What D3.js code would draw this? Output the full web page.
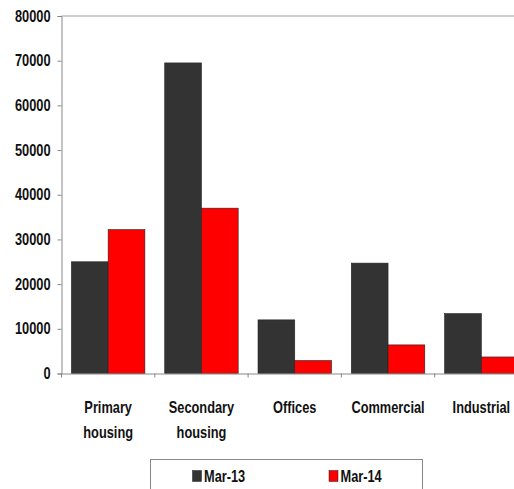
<!DOCTYPE html>
<html>
<head>
<meta charset="utf-8">
<script src="https://cdn.jsdelivr.net/npm/d3@7"></script>
<style>
  html, body { margin: 0; padding: 0; background: #fff; }
  svg { display: block; }
  text { font-family: "Liberation Sans", Arial, sans-serif; font-weight: bold; fill: #111; }
</style>
</head>
<body>
<script>
// Transactions by property type
const categories = [["Primary", "housing"], ["Secondary", "housing"], ["Offices"], ["Commercial"], ["Industrial"]];
const seriesNames = ["Mar-13", "Mar-14"];
const mar13 = [25000, 69500, 12000, 24700, 13400];
const mar14 = [32200, 37000, 2900, 6400, 3700];
const yTicks = [0, 10000, 20000, 30000, 40000, 50000, 60000, 70000, 80000];
const colors = ["#333333", "#ff0000"];

const W = 514, H = 489;
const FONT = "16px";
const SX = 0.8; // condensed lettering
const svg = d3.select("body").append("svg").attr("width", W).attr("height", H);

const plotLeft = 61.5, plotRight = 528, plotTop = 16, plotBottom = 373.5;

const x = d3.scaleBand().domain(d3.range(categories.length)).range([plotLeft, plotRight]).paddingInner(0).paddingOuter(0);
const inner = d3.scaleBand().domain([0, 1]).range([0, x.bandwidth()]).paddingInner(0).paddingOuter(0.27);
const y = d3.scaleLinear().domain([0, 80000]).range([plotBottom, plotTop]);

// top gridline
svg.append("line")
  .attr("x1", plotLeft).attr("x2", W).attr("y1", y(80000)).attr("y2", y(80000))
  .attr("stroke", "#cfcfcf").attr("stroke-width", 2);

// bars
const values = [mar13, mar14];
values.forEach((vals, s) => {
  svg.append("g").selectAll("rect").data(vals).join("rect")
    .attr("x", (d, i) => x(i) + inner(s))
    .attr("y", d => y(d))
    .attr("width", inner.bandwidth())
    .attr("height", d => y(0) - y(d))
    .attr("fill", colors[s])
    .attr("stroke", "#222")
    .attr("stroke-width", 0.6);
});

// y axis
const yAxis = d3.axisLeft(y).tickValues(yTicks).tickSize(4).tickPadding(7).tickFormat(d3.format("d"));
const gy = svg.append("g").attr("transform", `translate(${plotLeft},0)`).call(yAxis);
gy.select(".domain").attr("stroke", "#888");
gy.selectAll(".tick line").attr("stroke", "#888");
gy.selectAll(".tick text")
  .style("font-size", FONT).attr("fill", "#111")
  .attr("x", -11 / SX)
  .attr("transform", `scale(${SX},1)`);

// x axis
const xAxis = d3.axisBottom(x).tickSize(0).tickFormat("");
const gx = svg.append("g").attr("transform", `translate(0,${plotBottom})`).call(xAxis);
gx.select(".domain").attr("stroke", "#888");
gx.selectAll(".tick").remove();
svg.append("g").selectAll("line").data(d3.range(categories.length + 1)).join("line")
  .attr("x1", i => plotLeft + i * x.step()).attr("x2", i => plotLeft + i * x.step())
  .attr("y1", plotBottom).attr("y2", plotBottom + 4)
  .attr("stroke", "#888");

// category labels
const labels = svg.append("g").selectAll("g").data(categories).join("g")
  .attr("transform", (d, i) => `translate(${x(i) + x.bandwidth() / 2},413) scale(${SX},1)`)
  .append("text")
  .attr("text-anchor", "middle")
  .style("font-size", FONT);
labels.selectAll("tspan").data(d => d).join("tspan")
  .attr("x", 0)
  .attr("dy", (d, i) => i === 0 ? 0 : 25)
  .text(d => d);

// legend
const lg = svg.append("g");
lg.append("rect").attr("x", 150.5).attr("y", 459.5).attr("width", 272).attr("height", 40)
  .attr("fill", "#fff").attr("stroke", "#888");
const legendX = [192.5, 329];
seriesNames.forEach((n, i) => {
  lg.append("rect").attr("x", legendX[i]).attr("y", 470.5).attr("width", 9).attr("height", 11)
    .attr("fill", colors[i]).attr("stroke", "#222").attr("stroke-width", 0.5);
  lg.append("g").attr("transform", `translate(${legendX[i] + 11.5},482) scale(${SX},1)`)
    .append("text").style("font-size", FONT).text(n);
});
</script>
</body>
</html>
